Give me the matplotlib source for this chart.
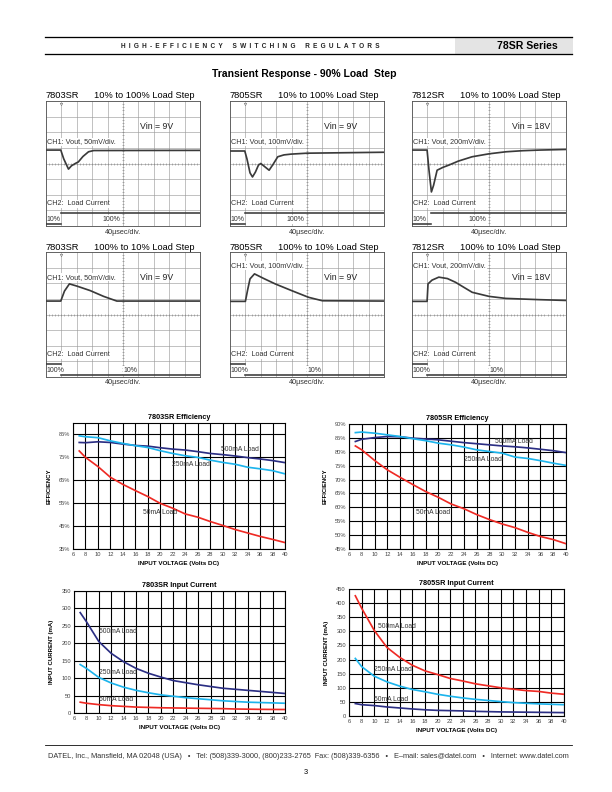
"""
Datasheet page: 78SR transient response scope shots plus efficiency / input current curves
"""

import matplotlib
matplotlib.use("Agg")
import matplotlib.pyplot as plt

plt.rcParams['font.family'] = ['Liberation Sans', 'DejaVu Sans']

W, H = 612, 792

# ---- scope traces (time and level in screen divisions, 10 x 8 grid) ----
t_03_up = [0, 0.96, 1.15, 1.46, 1.65, 1.9, 2.1, 2.4, 2.76, 3.1, 10]
v_03_up = [4.86, 4.86, 4.3, 3.64, 3.85, 4.0, 4.1, 4.45, 4.75, 4.83, 4.84]
t_05_up = [0, 0.96, 1.1, 1.3, 1.46, 1.65, 1.85, 2.0, 2.25, 2.54, 2.8, 3.1, 3.5, 3.96, 5.0, 10]
v_05_up = [4.8, 4.8, 4.3, 3.4, 3.14, 3.45, 3.9, 4.0, 3.8, 3.57, 3.95, 4.43, 4.55, 4.6, 4.66, 4.72]
t_12_up = [0, 0.98, 1.1, 1.26, 1.4, 1.63, 2.0, 2.4, 3.0, 3.9, 5.0, 6.1, 7.2, 8.3, 10]
v_12_up = [4.86, 4.86, 3.6, 2.18, 2.6, 3.57, 3.75, 3.9, 4.15, 4.43, 4.62, 4.75, 4.82, 4.86, 4.9]
t_03_dn = [0, 0.96, 1.2, 1.52, 2.0, 2.87, 3.74, 4.6, 10]
v_03_dn = [4.86, 4.86, 5.5, 5.96, 5.82, 5.53, 5.16, 4.86, 4.86]
t_05_dn = [0, 1.0, 1.15, 1.3, 1.59, 2.2, 2.93, 4.0, 5.1, 6.0, 10]
v_05_dn = [4.84, 4.84, 5.6, 6.28, 6.6, 6.3, 5.96, 5.53, 5.1, 4.88, 4.86]
t_12_dn = [0, 0.98, 1.04, 1.3, 1.74, 2.3, 2.83, 3.4, 3.91, 5.0, 6.09, 8.26, 10]
v_12_dn = [4.84, 4.84, 5.96, 6.2, 6.39, 6.3, 6.06, 5.72, 5.42, 5.16, 5.03, 4.95, 4.9]

# load step instants (divisions)
steps_up = [0.96, 0.96, 1.26]
steps_dn = [0.96, 1.0, 1.0]

models = ["7803SR", "7805SR", "7812SR"]
ch1_scales = ["CH1: Vout, 50mV/div.", "CH1: Vout, 100mV/div.", "CH1: Vout, 200mV/div."]
vin_labels = ["Vin = 9V", "Vin = 9V", "Vin = 18V"]

# ---- curves ----
volts = [7, 8, 10, 12, 14, 16, 18, 20, 22, 24, 26, 28, 30, 32, 34, 36, 38, 40]

eff03_500 = [81.5, 81.4, 81.8, 81.5, 80.8, 80.2, 79.9, 79.2, 78.6, 78.2, 77.5, 76.7, 76.2, 75.6, 74.9, 74.3, 73.6, 72.7]
eff03_250 = [84.4, 84.0, 83.6, 82.2, 81.1, 80.1, 79.3, 77.9, 76.7, 75.7, 75.0, 73.8, 72.8, 72.0, 70.7, 70.0, 69.2, 67.8]
eff03_50 = [77.8, 75.0, 71.0, 66.3, 63.2, 60.5, 57.9, 54.9, 52.8, 50.3, 48.9, 47.0, 45.3, 43.5, 42.0, 40.5, 39.2, 37.8]

eff05_500 = [83.7, 84.5, 85.1, 85.5, 85.4, 84.9, 84.6, 84.3, 83.8, 83.3, 82.9, 82.5, 82.1, 81.8, 81.4, 80.9, 80.4, 79.7]
eff05_250 = [86.9, 87.1, 86.7, 86.1, 85.5, 84.7, 84.0, 83.1, 82.5, 81.7, 80.7, 80.1, 79.5, 78.1, 77.6, 76.8, 75.9, 75.1]
eff05_50 = [82.1, 80.7, 76.9, 73.5, 70.8, 68.2, 65.7, 63.6, 61.2, 59.5, 57.4, 55.6, 54.0, 52.7, 51.0, 49.5, 48.4, 46.9]

cur03_500 = [288, 262, 205, 171, 147, 128, 114, 103, 93, 87, 81, 76, 71, 68, 65, 62, 59, 56]
cur03_250 = [139, 128, 102, 86, 74, 65, 58, 52, 48, 44, 41, 38, 35, 33, 31, 30, 29, 28]
cur03_50 = [31, 28, 24, 21, 19, 17, 16, 15, 14.5, 14, 13.5, 13, 12.5, 11.5, 11, 10.5, 10.2, 10]

cur05_500 = [426, 382, 303, 243, 208, 180, 160, 147, 133, 124, 114, 107, 100, 95, 90, 87, 81, 77]
cur05_250 = [204, 175, 141, 121, 106, 94, 86, 77, 70, 64, 59, 55, 51, 47.5, 45, 43, 41.5, 40]
cur05_50 = [44, 40, 37, 32, 28.5, 25, 22, 20, 19, 18, 16.5, 15.5, 14.5, 14, 13.5, 13, 12.5, 12]

load_labels = ["500mA Load", "250mA Load", "50mA Load"]

NAVY = "#2b2e83"
CYAN = "#1cb4ec"
RED = "#ee2a24"
TRACE = "#3a3a3a"


def px_axes(fig, x0, y0, x1, y1):
    return fig.add_axes([x0 / W, 1 - y1 / H, (x1 - x0) / W, (y1 - y0) / H])


def px_text(fig, x, y, s, **kw):
    return fig.text(x / W, 1 - y / H, s, **kw)


def fit_text(fig, x, y, s, width, **kw):
    # the original uses a narrow Helvetica; scale the size so the run has the same length
    txt = px_text(fig, x, y, s, **kw)
    w = txt.get_window_extent(fig.canvas.get_renderer()).width
    txt.set_fontsize(txt.get_fontsize() * width / w)
    return txt


def draw_scope(ax, t, v, step, rising, ch1_text, ch1_y, vin_text):
    ax.set_xlim(0, 10)
    ax.set_ylim(0, 8)
    ax.set_xticks([])
    ax.set_yticks([])
    for s in ax.spines.values():
        s.set_color("#555555")
        s.set_linewidth(0.9)
    for gx in range(1, 10):
        ax.axvline(gx, color="#9a9a9a", lw=0.6, zorder=1)
    for gy in range(1, 8):
        ax.axhline(gy, color="#9a9a9a", lw=0.6, zorder=1)
    # small ticks along centre lines
    minor = [i * 0.2 for i in range(1, 50)]
    ax.plot(minor, [4] * len(minor), ls="none", marker="|", ms=2.5, color="#777777", mew=0.5, zorder=1)
    minor_y = [i * 0.2 for i in range(1, 40)]
    ax.plot([5] * len(minor_y), minor_y, ls="none", marker="_", ms=2.5, color="#777777", mew=0.5, zorder=1)
    # trigger marker
    ax.plot([1.0], [7.8], marker="v", ms=2.5, color="#777777", mfc="white", mew=0.6, zorder=3)

    ax.plot(t, v, color=TRACE, lw=1.7, zorder=4, solid_joinstyle="round")

    lo, hi = 0.12, 0.86
    if rising:
        ax.plot([0, step], [lo, lo], color=TRACE, lw=1.6, zorder=4)
        ax.plot([step, 10], [hi, hi], color=TRACE, lw=1.6, zorder=4)
        first, second, second_x = "10%", "100%", 3.65
    else:
        ax.plot([0, step], [hi, hi], color=TRACE, lw=1.6, zorder=4)
        ax.plot([step, 10], [lo, lo], color=TRACE, lw=1.6, zorder=4)
        first, second, second_x = "100%", "10%", 5.05

    box = dict(facecolor="white", edgecolor="none", pad=0.6)
    ax.text(0.08, ch1_y, ch1_text, fontsize=7.2, color="#333333", va="center", ha="left",
            bbox=box, zorder=2)
    ax.text(6.1 if len(vin_text) < 9 else 6.5, 6.35, vin_text, fontsize=8.7, color="#222222",
            va="center", ha="left", zorder=2)
    ax.text(0.08, 1.43, "CH2:  Load Current", fontsize=7.3, color="#333333", va="center",
            ha="left", bbox=box, zorder=2)
    ax.text(0.05, 0.42, first, fontsize=7, color="#333333", va="center", ha="left",
            bbox=box, zorder=2)
    ax.text(second_x, 0.42, second, fontsize=7, color="#333333", va="center", ha="left",
            bbox=box, zorder=2)


def draw_curves(ax, title, series, colors, label_xy, ylim, yticks, yfmt, ylabel):
    for ys, c in zip(series, colors):
        ax.plot(volts, ys, color=c, lw=1.7, zorder=3)
    for lab, (lx, ly) in zip(load_labels, label_xy):
        ax.text(lx, ly, lab, fontsize=6.7, color="#333333", va="center", ha="left", zorder=4)
    ax.set_xlim(6, 40)
    ax.set_ylim(*ylim)
    ax.set_xticks(range(6, 41, 2))
    ax.set_yticks(yticks)
    ax.set_yticklabels([yfmt.format(y) for y in yticks])
    ax.grid(True, color="black", lw=1.1, zorder=1)
    ax.set_axisbelow(True)
    ax.tick_params(length=0, labelsize=5.8, colors="#444444", pad=3)
    for s in ax.spines.values():
        s.set_color("black")
        s.set_linewidth(1.1)
    ax.set_title(title, fontsize=7.3, fontweight="bold", pad=4)
    ax.set_xlabel("INPUT VOLTAGE (Volts DC)", fontsize=6.3, fontweight="bold", labelpad=4)
    ax.set_ylabel(ylabel, fontsize=6, fontweight="bold", labelpad=7)


def main():
    fig = plt.figure(figsize=(W / 72, H / 72), dpi=72)

    # page furniture: header band and footer rule
    page = px_axes(fig, 0, 0, W, H)
    page.axis("off")
    page.set_xlim(0, W)
    page.set_ylim(H, 0)
    page.add_patch(plt.Rectangle((455, 37), 117, 17, color="#e4e4e4", zorder=0))
    page.plot([45, 572], [37, 37], color="black", lw=1.3)
    page.plot([45, 572], [54, 54], color="black", lw=1.3)
    page.plot([45, 572], [745, 745], color="black", lw=0.8)
    # letter-spaced with en spaces between letters, wider gaps between words
    header = "\u2002\u2002\u2002".join("\u2002".join(word)
                                       for word in "HIGH-EFFICIENCY SWITCHING REGULATORS".split())
    px_text(fig, 250, 46, header, fontsize=6.5, fontweight="bold", ha="center", va="center",
            color="#222222")
    fit_text(fig, 558, 46, "78SR Series", 61, fontsize=10, fontweight="bold", ha="right",
             va="center")
    fit_text(fig, 304, 74, "Transient Response - 90% Load  Step", 184, fontsize=10,
             fontweight="bold", ha="center", va="center")

    # scope panels
    cols = [(46, 200), (230, 384), (412, 566)]
    rows = [(101, 226), (252, 377)]
    ups = [(t_03_up, v_03_up), (t_05_up, v_05_up), (t_12_up, v_12_up)]
    dns = [(t_03_dn, v_03_dn), (t_05_dn, v_05_dn), (t_12_dn, v_12_dn)]
    for i, (x0, x1) in enumerate(cols):
        for r, (y0, y1) in enumerate(rows):
            ax = px_axes(fig, x0, y0, x1, y1)
            if r == 0:
                t, v = ups[i]
                draw_scope(ax, t, v, steps_up[i], True, ch1_scales[i], 5.39, vin_labels[i])
                step_title = "10% to 100% Load Step"
            else:
                t, v = dns[i]
                ch1_y = 6.39 if i == 0 else 7.14
                draw_scope(ax, t, v, steps_dn[i], False, ch1_scales[i], ch1_y, vin_labels[i])
                step_title = "100% to 10% Load Step"
            px_text(fig, x0, y0 - 5, models[i], fontsize=9.2, ha="left", va="center")
            px_text(fig, x1 - 5, y0 - 5, step_title, fontsize=9.2, ha="right", va="center")
            px_text(fig, (x0 + x1) / 2, y1 + 6, "40µsec/div.", fontsize=7.2, ha="center",
                    va="center", color="#333333")

    # efficiency charts
    ax = px_axes(fig, 73, 423, 285, 549)
    draw_curves(ax, "7803SR Efficiency", [eff03_500, eff03_250, eff03_50], [NAVY, CYAN, RED],
                [(29.8, 78.5), (21.8, 72.0), (17.2, 51.0)], (35, 90), list(range(35, 86, 10)),
                "{}%", "EFFICIENCY")
    ax = px_axes(fig, 349, 424, 566, 549)
    draw_curves(ax, "7805SR Efficiency", [eff05_500, eff05_250, eff05_50], [NAVY, CYAN, RED],
                [(28.9, 83.7), (24.0, 77.2), (16.5, 58.3)], (45, 90), list(range(45, 91, 5)),
                "{}%", "EFFICIENCY")

    # input current charts
    ax = px_axes(fig, 74, 591, 285, 713)
    draw_curves(ax, "7803SR Input Current", [cur03_500, cur03_250, cur03_50], [NAVY, CYAN, RED],
                [(10.0, 233), (10.0, 116), (10.0, 40)], (0, 350), list(range(0, 351, 50)),
                "{}", "INPUT CURRENT (mA)")
    ax = px_axes(fig, 349, 589, 564, 716)
    draw_curves(ax, "7805SR Input Current", [cur05_500, cur05_250, cur05_50], [RED, CYAN, NAVY],
                [(10.6, 317), (10.0, 165), (10.0, 58)], (0, 450), list(range(0, 451, 50)),
                "{}", "INPUT CURRENT (mA)")

    # footer
    fit_text(fig, 308, 756,
             "DATEL, Inc., Mansfield, MA 02048 (USA)   \u2022   Tel: (508)339-3000, (800)233-2765  "
             "Fax: (508)339-6356   \u2022   E\u2013mail: sales@datel.com   \u2022   Internet: www.datel.com",
             519, fontsize=6.5, ha="center", va="center", color="#333333")
    px_text(fig, 306, 773, "3", fontsize=7.5, ha="center", va="center")

    fig.savefig("out.png", dpi=72)


if __name__ == "__main__":
    main()
